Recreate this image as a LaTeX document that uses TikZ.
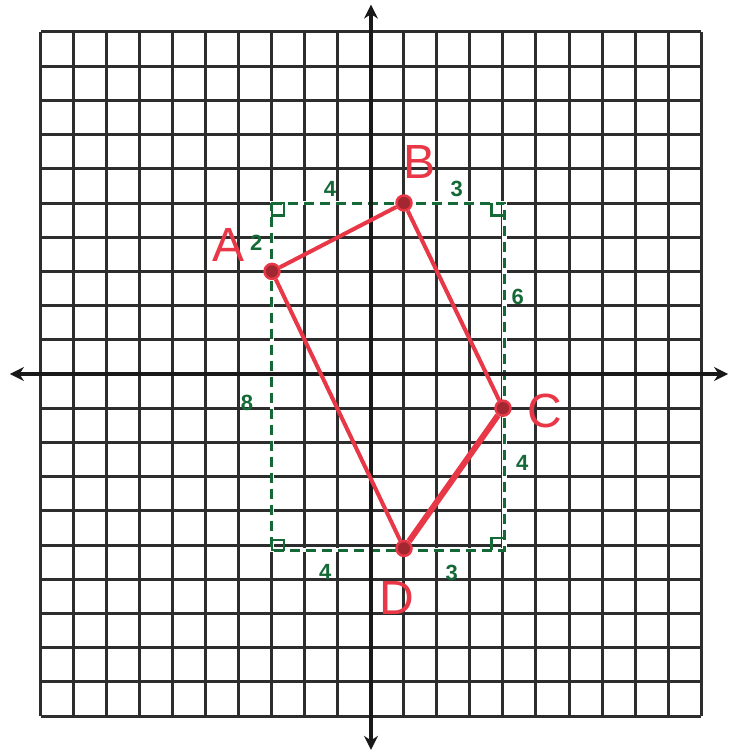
\documentclass[tikz,border=0pt]{standalone}
\usepackage{fontspec}
\setmainfont{Liberation Sans}
\usetikzlibrary{arrows.meta}
\definecolor{gridc}{RGB}{45,45,45}
\definecolor{axisc}{RGB}{25,25,25}
\definecolor{redc}{RGB}{232,55,70}
\definecolor{greenc}{RGB}{20,105,55}
\tikzset{
  gridline/.style={draw=gridc, line width=3pt},
  axisline/.style={draw=axisc, line width=4.5pt, {Stealth[length=14pt,width=14pt]}-{Stealth[length=14pt,width=14pt]}},
  vertex/.style={circle, draw=redc, fill=redc!70!black, line width=2.5pt, minimum size=15pt, inner sep=0pt},
  side/.style={draw=redc, line width=4pt},
  thickside/.style={draw=redc, line width=6pt},
  underlay/.style={draw=white, line width=4.5pt},
  dashbox/.style={draw=greenc, line width=3pt, dash pattern=on 10pt off 6pt},
  rmark/.style={draw=greenc, line width=2.6pt},
  num/.style={text=greenc, font=\fontsize{22}{22}\selectfont\bfseries, inner sep=0pt},
  lab/.style={text=redc, font=\fontsize{48}{48}\selectfont, inner sep=0pt}
}
\begin{document}
\begin{tikzpicture}[x=33pt, y=34.2pt]
\useasboundingbox[fill=white] (-371pt,-379pt) rectangle (371pt,374pt);
% grid
\foreach \i in {-10,...,10} {
  \draw[gridline] (\i,-10) -- (\i,10);
  \draw[gridline] (-10,\i) -- (10,\i);
}
% dashed rectangle
\coordinate (TL) at (-3,5);
\coordinate (TR) at (4.05,5);
\coordinate (BR) at (4.05,-5.15);
\coordinate (BL) at (-3,-5.15);
\draw[underlay] (TL) -- (TR) -- (BR) -- (BL) -- cycle;
\draw[dashbox] (TL) -- (TR) -- (BR) -- (BL) -- cycle;
% axes
\coordinate (xl) at (-10.94,0);
\coordinate (xr) at (10.82,0);
\coordinate (yt) at (0,10.8);
\coordinate (yb) at (0,-10.99);
\draw[axisline] (xl) -- (xr);
\draw[axisline] (yb) -- (yt);
% right angle marks
\draw[rmark] (TL) rectangle ++(0.36,-0.36);
\draw[rmark] (BL) rectangle ++(0.36,0.3);
\draw[rmark] ([xshift=-13pt]TR) -- ++(0,-0.36) -- ++(13pt,0);
\draw[rmark] ([xshift=-13pt]BR) -- ++(0,0.36) -- ++(13pt,0);
% vertices
\node[vertex] (A) at (-3,3) {};
\node[vertex] (B) at (1,5) {};
\node[vertex] (C) at (4,-1) {};
\node[vertex] (D) at (1,-5.1) {};
\draw[side] (A) -- (B);
\draw[side] (B) -- (C);
\draw[thickside] (C) -- (D);
\draw[side] (D) -- (A);
% red labels
\node[lab] (lA) at (-4.33,3.77) {A};
\node[lab] (lB) at (1.48,6.2) {B};
\node[lab] (lC) at (5.27,-1.08) {C};
\node[lab] (lD) at (0.79,-6.55) {D};
% green numbers
\node[num] (n1) at (-1.24,5.4) {4};
\node[num] (n2) at (2.6,5.4) {3};
\node[num] (n3) at (-3.48,3.83) {2};
\node[num] (n4) at (4.45,2.25) {6};
\node[num] (n5) at (-3.76,-0.85) {8};
\node[num] (n6) at (4.58,-2.6) {4};
\node[num] (n7) at (-1.39,-5.79) {4};
\node[num] (n8) at (2.45,-5.82) {3};
\end{tikzpicture}
\end{document}
